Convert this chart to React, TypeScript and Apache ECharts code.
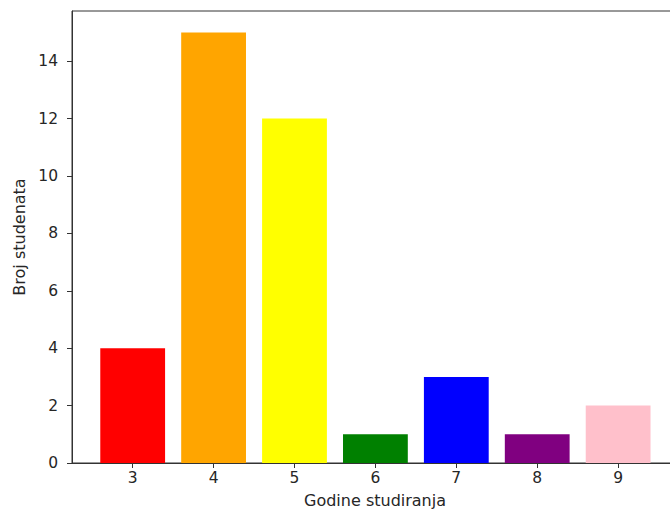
import React, { useEffect, useRef } from "react";
import * as echarts from "echarts";

const categories = [3, 4, 5, 6, 7, 8, 9];
const counts = [4, 15, 12, 1, 3, 1, 2];
const barColors = ["#ff0000", "#ffa500", "#ffff00", "#008000", "#0000ff", "#800080", "#ffc0cb"];
const yTicks = [0, 2, 4, 6, 8, 10, 12, 14];
const xLabel = "Godine studiranja";
const yLabel = "Broj studenata";

export default function App() {
  const ref = useRef<HTMLDivElement>(null);
  useEffect(() => {
    if (!ref.current) return;
    const chart = echarts.init(ref.current, null, { renderer: "svg" });
    const font = "DejaVu Sans";
    const textColor = "#262626";
    const lineColor = "#333333";
    chart.setOption({
      animation: false,
      backgroundColor: "#ffffff",
      grid: {
        left: 72,
        top: 11,
        right: -8,
        bottom: 52,
        outerBoundsMode: "none",
        containLabel: false,
        show: true,
        borderColor: lineColor,
        borderWidth: 1,
        backgroundColor: "transparent",
      },
      xAxis: {
        type: "value",
        min: 2.25,
        max: 9.74,
        name: xLabel,
        nameLocation: "middle",
        nameGap: 29,
        nameTextStyle: { fontFamily: font, fontSize: 16, color: textColor },
        splitLine: { show: false },
        axisLine: { show: true, lineStyle: { color: lineColor, width: 1 } },
        axisTick: { show: true, length: 5, lineStyle: { color: lineColor }, customValues: categories },
        axisLabel: {
          fontFamily: font,
          fontSize: 15.5,
          color: textColor,
          margin: 7,
          customValues: categories,
        },
      },
      yAxis: {
        type: "value",
        min: 0,
        max: 15.75,
        name: yLabel,
        nameLocation: "middle",
        nameGap: 43,
        nameTextStyle: { fontFamily: font, fontSize: 16, color: textColor },
        splitLine: { show: false },
        axisLine: { show: true, lineStyle: { color: lineColor, width: 1 } },
        axisTick: { show: true, length: 5, lineStyle: { color: lineColor }, customValues: yTicks },
        axisLabel: {
          fontFamily: font,
          fontSize: 15.5,
          color: textColor,
          margin: 14,
          customValues: yTicks,
        },
      },
      series: [
        {
          type: "bar",
          barWidth: 64.8,
          data: categories.map((c, i) => ({
            value: [c, counts[i]],
            itemStyle: { color: barColors[i] },
          })),
        },
      ],
    });
    return () => chart.dispose();
  }, []);
  return (
    <div
      ref={ref}
      style={{ position: "absolute", left: 0, top: 0, width: 670, height: 515 }}
    />
  );
}
